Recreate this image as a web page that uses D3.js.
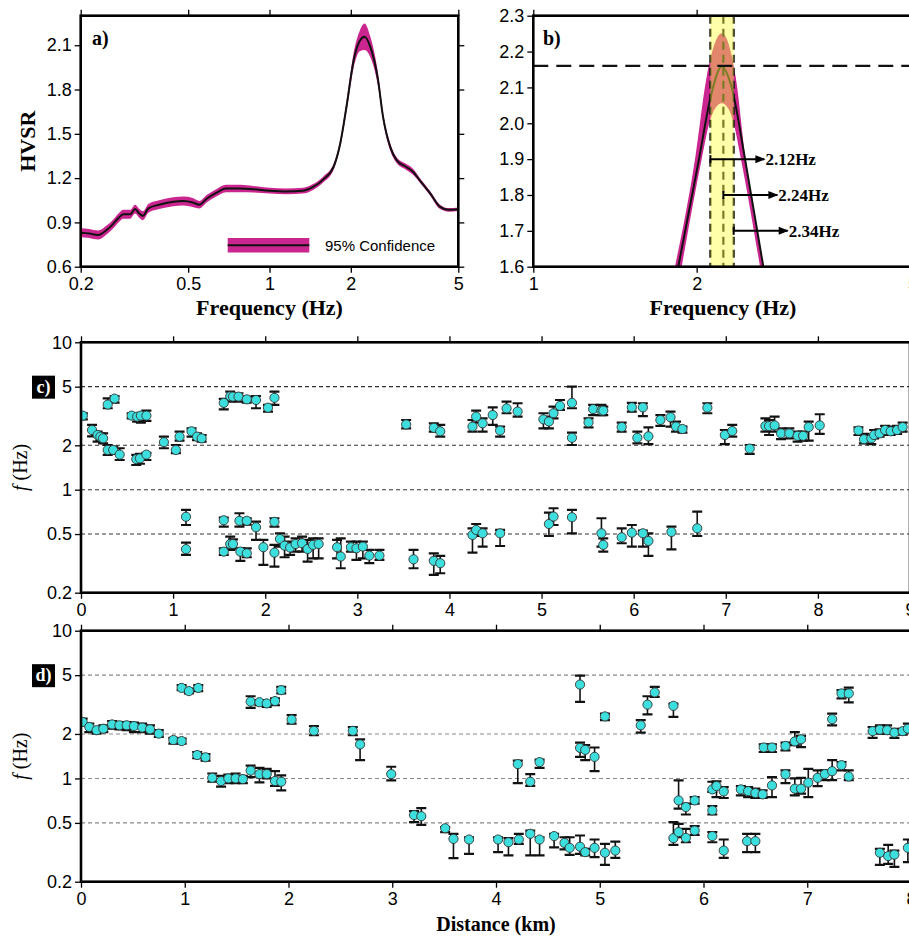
<!DOCTYPE html>
<html>
<head>
<meta charset="utf-8">
<script src="https://cdn.jsdelivr.net/npm/d3@7"></script>
<style>
  body { margin: 0; background: #fff; }
  svg { display: block; }
</style>
</head>
<body>
<svg id="fig" width="909" height="937"></svg>
<script>
// ---------- panel a: mean HVSR curve and 95% band ----------
const freqA = [0.2, 0.215, 0.232, 0.25, 0.264, 0.276, 0.288, 0.305, 0.318, 0.33, 0.34, 0.356, 0.39, 0.44, 0.48,
  0.52, 0.55, 0.585, 0.635, 0.69, 0.78, 0.87, 1.0, 1.16, 1.33, 1.45, 1.58, 1.73, 1.83, 1.93, 2.05, 2.16, 2.25,
  2.36, 2.52, 2.63, 2.80, 2.96, 3.18, 3.39, 3.63, 3.93, 4.27, 4.60, 5.0];
const hvsrA = [0.83, 0.825, 0.815, 0.85, 0.89, 0.93, 0.955, 0.955, 0.99, 0.96, 0.945, 0.995, 1.02, 1.04, 1.045,
  1.035, 1.02, 1.06, 1.10, 1.13, 1.13, 1.125, 1.115, 1.11, 1.115, 1.14, 1.19, 1.28, 1.44, 1.69, 2.00, 2.13, 2.157,
  2.09, 1.87, 1.62, 1.41, 1.32, 1.28, 1.245, 1.177, 1.098, 1.007, 0.985, 0.989];
const ciA = [0.03, 0.03, 0.03, 0.03, 0.03, 0.03, 0.03, 0.03, 0.03, 0.03, 0.03, 0.03, 0.03, 0.03, 0.03, 0.03,
  0.025, 0.025, 0.025, 0.025, 0.025, 0.022, 0.02, 0.02, 0.02, 0.02, 0.02, 0.02, 0.025, 0.035, 0.05, 0.07, 0.09,
  0.07, 0.045, 0.03, 0.025, 0.02, 0.02, 0.02, 0.015, 0.015, 0.015, 0.012, 0.012];
const ticksAx = [0.2, 0.5, 1, 2, 5];
const ticksAy = [0.6, 0.9, 1.2, 1.5, 1.8, 2.1];

// ---------- panel b: zoom on the peak ----------
const freqB = [1.85, 2.02, 2.12, 2.225, 2.32, 2.456, 2.654];
const hvsrB = [1.6, 1.9, 2.07, 2.158, 2.10, 1.9, 1.6];
const upFreqB = [1.824, 1.986, 2.087, 2.225, 2.36, 2.46, 2.66];
const upHvsrB = [1.6, 1.9, 2.13, 2.251, 2.13, 1.9, 1.6];
const loFreqB = [1.877, 2.043, 2.11, 2.16, 2.225, 2.29, 2.34, 2.414, 2.617];
const loHvsrB = [1.6, 1.9, 2.0, 2.04, 2.056, 2.04, 2.0, 1.9, 1.6];
const peakFreqs = [2.12, 2.24, 2.34];
const arrowLevels = [1.9, 1.8, 1.7];
const peakLevel = 2.16;
const ticksBx = [1, 2, 5];
const ticksBy = [1.6, 1.7, 1.8, 1.9, 2.0, 2.1, 2.2, 2.3];

// ---------- panel c: picked peaks along profile ----------
const cDist = [0.02, 0.12, 0.18, 0.21, 0.24, 0.29, 0.29, 0.35, 0.365, 0.42, 0.55, 0.60, 0.61, 0.64, 0.65, 0.71, 0.71,
  0.90, 1.03, 1.07, 1.20, 1.26, 1.31, 1.55, 1.62, 1.65, 1.71, 1.80, 1.90, 2.03, 2.10, 3.53, 3.83, 3.90,
  1.14, 1.14, 1.55, 1.55, 1.62, 1.65, 1.72, 1.73, 1.80, 1.80, 1.90, 1.98, 2.10, 2.10, 2.16, 2.21, 2.27, 2.33,
  2.40, 2.46, 2.52, 2.58, 2.78, 2.82, 2.93, 2.99, 3.06, 3.13, 3.24, 3.61, 3.83, 3.90,
  4.25, 4.29, 4.36, 4.47, 4.55, 4.62, 4.74, 5.02, 5.08, 5.13, 5.20, 5.33, 5.33, 5.51, 5.56, 5.65, 5.67, 5.87,
  5.98, 6.04, 6.10, 6.16, 6.29, 6.40, 6.46, 6.53, 6.80, 6.99, 7.07, 7.26, 7.43, 7.47, 7.53, 7.60, 7.69, 7.78,
  7.84, 7.90, 8.02, 8.44, 8.50, 8.58, 8.61, 8.67, 8.73, 8.79, 8.86, 8.92,
  4.25, 4.29, 4.36, 4.55, 5.08, 5.13, 5.33, 5.65, 5.67, 5.87, 5.98, 6.10, 6.16, 6.41, 6.69];
const cFreq = [3.18, 2.54, 2.35, 2.29, 2.23, 3.78, 1.86, 1.86, 4.15, 1.73, 3.18, 1.61, 3.13, 1.63, 3.18, 3.18, 1.73,
  2.10, 1.86, 2.29, 2.49, 2.29, 2.23, 3.88, 4.30, 4.28, 4.28, 4.10, 4.06, 3.60, 4.20, 2.77, 2.63, 2.49,
  0.655, 0.395, 0.62, 0.38, 0.428, 0.428, 0.615, 0.38, 0.615, 0.37, 0.556, 0.407, 0.605, 0.374, 0.463, 0.417,
  0.405, 0.428, 0.433, 0.396, 0.422, 0.428, 0.407, 0.352, 0.407, 0.40, 0.411, 0.357, 0.357, 0.337, 0.329, 0.317,
  2.68, 3.13, 2.82, 3.21, 2.52, 3.56, 3.39, 3.00, 2.90, 3.30, 3.70, 3.88, 2.25, 2.86, 3.52, 3.44, 3.44, 2.66,
  3.62, 2.25, 3.62, 2.30, 2.97, 3.10, 2.68, 2.58, 3.60, 2.35, 2.50, 1.90, 2.70, 2.70, 2.73, 2.41, 2.41, 2.32,
  2.32, 2.66, 2.73, 2.52, 2.20, 2.23, 2.35, 2.41, 2.54, 2.49, 2.54, 2.66,
  0.493, 0.533, 0.506, 0.506, 0.585, 0.657, 0.65, 0.506, 0.422, 0.475, 0.511, 0.506, 0.449, 0.517, 0.547];
const cLow = [3.0, 2.30, 2.12, 2.15, 2.06, 3.57, 1.72, 1.75, 3.90, 1.59, 3.05, 1.47, 2.90, 1.50, 2.85, 2.93, 1.59,
  1.91, 1.77, 2.15, 2.29, 2.17, 2.12, 3.51, 3.96, 4.06, 3.96, 3.90, 3.57, 3.39, 3.76, 2.61, 2.48, 2.29,
  0.576, 0.361, 0.562, 0.361, 0.39, 0.40, 0.562, 0.329, 0.58, 0.348, 0.456, 0.309, 0.562, 0.301, 0.411, 0.348,
  0.361, 0.38, 0.38, 0.325, 0.342, 0.342, 0.342, 0.293, 0.38, 0.334, 0.342, 0.317, 0.334, 0.293, 0.264, 0.271,
  2.48, 2.85, 2.48, 2.75, 2.29, 3.30, 3.13, 2.61, 2.61, 3.05, 3.48, 3.57, 2.01, 2.65, 3.21, 3.21, 3.21, 2.48,
  3.39, 2.06, 3.16, 2.04, 2.71, 2.68, 2.48, 2.44, 3.30, 2.04, 2.29, 1.75, 2.48, 2.35, 2.48, 2.20, 2.23, 2.12,
  2.15, 2.15, 2.39, 2.35, 2.06, 2.04, 2.23, 2.29, 2.35, 2.35, 2.39, 2.48,
  0.374, 0.485, 0.411, 0.415, 0.485, 0.576, 0.506, 0.411, 0.38, 0.433, 0.411, 0.411, 0.355, 0.394, 0.485];
const cHigh = [3.30, 2.75, 2.48, 2.41, 2.41, 4.17, 2.01, 1.96, 4.32, 1.91, 3.30, 1.72, 3.25, 1.75, 3.30, 3.44, 1.78,
  2.29, 2.01, 2.48, 2.61, 2.41, 2.35, 4.13, 4.63, 4.45, 4.51, 4.28, 4.32, 3.76, 4.63, 2.97, 2.82, 2.75,
  0.729, 0.437, 0.646, 0.40, 0.48, 0.46, 0.692, 0.40, 0.64, 0.40, 0.607, 0.456, 0.64, 0.422, 0.506, 0.48,
  0.444, 0.468, 0.48, 0.456, 0.468, 0.468, 0.456, 0.468, 0.444, 0.444, 0.444, 0.39, 0.39, 0.39, 0.37, 0.355,
  2.97, 3.44, 3.05, 3.62, 2.68, 3.96, 3.86, 3.30, 3.13, 3.66, 4.06, 5.00, 2.44, 3.05, 3.76, 3.76, 3.66, 2.85,
  3.88, 2.48, 3.86, 2.65, 3.21, 3.39, 2.90, 2.68, 3.86, 2.54, 2.75, 2.01, 3.05, 2.97, 3.13, 2.61, 2.61, 2.48,
  2.48, 2.90, 3.25, 2.65, 2.39, 2.35, 2.54, 2.57, 2.71, 2.68, 2.71, 2.85,
  0.547, 0.585, 0.547, 0.533, 0.699, 0.748, 0.729, 0.64, 0.468, 0.547, 0.576, 0.528, 0.506, 0.562, 0.71];

// ---------- panel d ----------
const dDist = [0.016, 0.08, 0.15, 0.215, 0.30, 0.37, 0.44, 0.51, 0.59, 0.665, 0.75, 0.89, 0.97, 0.97, 1.04, 1.13,
  1.12, 1.20, 1.265, 1.35, 1.42, 1.49, 1.56, 1.635, 1.635, 1.72, 1.72, 1.79, 1.79, 1.87, 1.87, 1.93, 1.93, 2.03,
  2.245, 2.62, 2.69, 2.99, 3.21, 3.28, 3.51, 3.59,
  3.74, 4.02, 4.12, 4.22, 4.21, 4.33, 4.33, 4.42, 4.42, 4.56, 4.66, 4.71, 4.81, 4.81, 4.81, 4.86, 4.86, 4.95,
  4.95, 5.05, 5.05, 5.15, 5.395, 5.46, 5.53, 5.71, 5.71, 5.76, 5.76, 5.83, 5.83, 5.915, 5.915, 6.085, 6.085,
  6.085, 6.125, 6.195, 6.195, 6.36, 6.43, 6.42, 6.50, 6.50, 6.57, 6.58, 6.66, 6.66, 6.79, 6.79, 6.88, 6.88,
  6.94, 6.94, 7.01, 7.10, 7.17, 7.24, 7.24, 7.33, 7.33, 7.40, 7.40, 7.63, 7.70, 7.77, 7.84, 7.92, 7.97, 7.70,
  7.78, 7.84, 7.97];
const dFreq = [2.41, 2.23, 2.12, 2.17, 2.32, 2.29, 2.29, 2.26, 2.21, 2.15, 2.01, 1.82, 1.79, 4.10, 3.90, 4.10,
  1.44, 1.39, 1.01, 0.96, 1.0, 1.0, 0.99, 3.31, 1.13, 3.28, 1.07, 3.22, 1.07, 3.34, 0.96, 3.96, 0.95, 2.50,
  2.10, 2.10, 1.70, 1.07, 0.565, 0.555, 0.46, 0.39,
  0.386, 0.386, 0.37, 0.386, 1.25, 0.95, 0.422, 1.29, 0.386, 0.407, 0.366, 0.339, 0.345, 4.32, 1.61, 1.56,
  0.317, 1.40, 0.339, 2.63, 0.314, 0.325, 2.29, 3.16, 3.82, 3.10, 0.394, 0.71, 0.433, 0.64, 0.396, 0.71, 0.444,
  0.607, 0.407, 0.843, 0.888, 0.817, 0.325, 0.843, 0.82, 0.376, 0.796, 0.376, 0.78, 1.62, 1.62, 0.897, 1.66,
  1.066, 1.78, 0.852, 1.84, 0.852, 0.936, 1.01, 1.07, 1.12, 2.52, 3.76, 1.23, 3.76, 1.03, 2.09, 2.14, 2.12,
  2.04, 2.09, 2.17, 0.314, 0.298, 0.305, 0.339];
const dLow = [2.29, 2.06, 2.01, 2.06, 2.17, 2.15, 2.12, 2.06, 2.06, 2.01, 1.91, 1.72, 1.72, 3.96, 3.76, 3.90,
  1.37, 1.32, 0.95, 0.88, 0.93, 0.93, 0.93, 3.00, 1.02, 3.13, 0.94, 3.05, 1.0, 3.13, 0.89, 3.76, 0.83, 2.35,
  1.96, 1.96, 1.33, 0.97, 0.506, 0.485, 0.433, 0.289,
  0.309, 0.317, 0.301, 0.361, 0.93, 0.89, 0.301, 1.18, 0.301, 0.342, 0.331, 0.304, 0.309, 3.30, 1.40, 1.33,
  0.301, 1.12, 0.293, 2.48, 0.26, 0.29, 2.04, 2.71, 3.57, 2.61, 0.355, 0.625, 0.40, 0.57, 0.37, 0.675, 0.415,
  0.57, 0.37, 0.81, 0.748, 0.737, 0.29, 0.768, 0.748, 0.317, 0.737, 0.317, 0.737, 1.51, 1.51, 0.748, 1.55,
  0.93, 1.68, 0.768, 1.63, 0.788, 0.748, 0.888, 0.975, 0.975, 2.29, 3.48, 1.134, 3.27, 0.975, 1.88, 2.01, 2.01,
  1.88, 1.98, 2.06, 0.26, 0.264, 0.252, 0.271];
const dHigh = [2.54, 2.35, 2.23, 2.29, 2.44, 2.41, 2.41, 2.39, 2.35, 2.29, 2.12, 1.88, 1.86, 4.28, 4.06, 4.28,
  1.51, 1.46, 1.08, 1.04, 1.06, 1.08, 1.04, 3.60, 1.22, 3.39, 1.18, 3.34, 1.16, 3.48, 1.12, 4.17, 1.05, 2.68,
  2.26, 2.23, 1.84, 1.20, 0.60, 0.63, 0.468, 0.422,
  0.40, 0.40, 0.394, 0.422, 1.32, 1.07, 0.444, 1.34, 0.40, 0.422, 0.40, 0.40, 0.411, 4.96, 1.75, 1.68,
  0.334, 1.62, 0.386, 2.75, 0.361, 0.374, 2.48, 3.60, 4.17, 3.21, 0.506, 0.97, 0.493, 0.675, 0.456, 0.748,
  0.475, 0.65, 0.433, 0.95, 0.955, 0.874, 0.386, 0.888, 0.874, 0.422, 0.852, 0.422, 0.83, 1.70, 1.70, 1.02,
  1.75, 1.134, 2.06, 1.0, 1.94, 1.01, 1.16, 1.134, 1.134, 1.33, 2.75, 3.96, 1.29, 4.12, 1.134, 2.23, 2.29,
  2.29, 2.17, 2.17, 2.35, 0.334, 0.355, 0.325, 0.386];

const fTicks = [0.2, 0.5, 1, 2, 5, 10];
const gridLevels = [0.5, 1, 2, 5];
const cDistTicks = [0, 1, 2, 3, 4, 5, 6, 7, 8, 9];
const dDistTicks = [0, 1, 2, 3, 4, 5, 6, 7, 8];

// ---------- style ----------
const sans = '"Liberation Sans", Arial, Helvetica, sans-serif';
const serif = '"Liberation Serif", "Times New Roman", Times, serif';
const magenta = '#cb2690';
const cyan = '#3ddede';
const tickFont = 18;

const svg = d3.select('#fig');

function styleAxis(g) {
  g.select('.domain').remove();
  g.selectAll('.tick line').attr('stroke', '#000').attr('stroke-width', 1.3);
  g.selectAll('.tick text').attr('font-family', sans).attr('font-size', tickFont).attr('fill', '#000');
  return g;
}

function frame(x, y) {
  const [x0, x1] = x.range();
  const [y0, y1] = y.range();
  svg.append('rect')
    .attr('x', x0).attr('y', y1).attr('width', x1 - x0).attr('height', y0 - y1)
    .attr('fill', 'none').attr('stroke', '#000').attr('stroke-width', 2.6);
}

function clip(id, x, y) {
  const [x0, x1] = x.range();
  const [y0, y1] = y.range();
  svg.append('clipPath').attr('id', id).append('rect')
    .attr('x', x0).attr('y', y1).attr('width', x1 - x0).attr('height', y0 - y1);
  return 'url(#' + id + ')';
}

function axes(x, y, xt, yt, xfmt, yfmt, pad) {
  const [x0, x1] = x.range();
  const [y0, y1] = y.range();
  styleAxis(svg.append('g').attr('transform', `translate(0,${y0})`)
    .call(d3.axisBottom(x).tickValues(xt).tickFormat(xfmt).tickSize(6).tickPadding(pad).tickSizeOuter(0)));
  styleAxis(svg.append('g').attr('transform', `translate(0,${y1})`)
    .call(d3.axisTop(x).tickValues(xt).tickFormat('').tickSize(6).tickSizeOuter(0)));
  styleAxis(svg.append('g').attr('transform', `translate(${x0},0)`)
    .call(d3.axisLeft(y).tickValues(yt).tickFormat(yfmt).tickSize(6).tickPadding(3).tickSizeOuter(0)));
  styleAxis(svg.append('g').attr('transform', `translate(${x1},0)`)
    .call(d3.axisRight(y).tickValues(yt).tickFormat('').tickSize(6).tickSizeOuter(0)));
}

const num = d => String(d);

// ================= panel a =================
const xA = d3.scaleLog().domain([0.2, 5]).range([80.7, 458.3]);
const yA = d3.scaleLinear().domain([0.6, 2.3]).range([266.7, 15.7]);
const ia = d3.range(freqA.length);
const gA = svg.append('g').attr('clip-path', clip('clipA', xA, yA));
gA.append('path')
  .attr('d', d3.area().curve(d3.curveMonotoneX)
    .x(i => xA(freqA[i])).y0(i => yA(hvsrA[i] - ciA[i])).y1(i => yA(hvsrA[i] + ciA[i]))(ia))
  .attr('fill', magenta);
gA.append('path')
  .attr('d', d3.line().curve(d3.curveMonotoneX).x(i => xA(freqA[i])).y(i => yA(hvsrA[i]))(ia))
  .attr('fill', 'none').attr('stroke', '#111').attr('stroke-width', 2);

// legend
svg.append('rect').attr('x', 227.7).attr('y', 238).attr('width', 81.6).attr('height', 14.5).attr('fill', magenta);
svg.append('line').attr('x1', 227.7).attr('x2', 309.3).attr('y1', 245.2).attr('y2', 245.2)
  .attr('stroke', '#111').attr('stroke-width', 2);
svg.append('text').attr('x', 325).attr('y', 250.5).attr('font-family', sans).attr('font-size', 15)
  .text('95% Confidence');

axes(xA, yA, ticksAx, ticksAy, num, d3.format('.1f'), 5);
frame(xA, yA);
svg.append('text').attr('x', 92).attr('y', 45).attr('font-family', serif).attr('font-weight', 'bold')
  .attr('font-size', 20).text('a)');
svg.append('text').attr('x', (xA.range()[0] + xA.range()[1]) / 2).attr('y', 315).attr('text-anchor', 'middle')
  .attr('font-family', serif).attr('font-weight', 'bold').attr('font-size', 22).text('Frequency (Hz)');
svg.append('text').attr('transform', `translate(35,${(yA.range()[0] + yA.range()[1]) / 2}) rotate(-90)`)
  .attr('text-anchor', 'middle').attr('font-family', serif).attr('font-weight', 'bold').attr('font-size', 22)
  .text('HVSR');

// ================= panel b =================
const xB = d3.scaleLog().domain([1, 5]).range([533.3, 912.6]);
const yB = d3.scaleLinear().domain([1.6, 2.3]).range([266.7, 15.7]);
const gB = svg.append('g').attr('clip-path', clip('clipB', xB, yB));
const ub = d3.range(upFreqB.length), lb = d3.range(loFreqB.length), mb = d3.range(freqB.length);
gB.append('path')
  .attr('d', d3.area().curve(d3.curveMonotoneX).x(i => xB(upFreqB[i])).y0(yB(1.6)).y1(i => yB(upHvsrB[i]))(ub))
  .attr('fill', magenta);
gB.append('path')
  .attr('d', d3.area().curve(d3.curveMonotoneX).x(i => xB(loFreqB[i])).y0(yB(1.6) + 2).y1(i => yB(loHvsrB[i]))(lb))
  .attr('fill', '#fff');
gB.append('path')
  .attr('d', d3.line().curve(d3.curveMonotoneX).x(i => xB(freqB[i])).y(i => yB(hvsrB[i]))(mb))
  .attr('fill', 'none').attr('stroke', '#111').attr('stroke-width', 2);
peakFreqs.forEach(f => {
  gB.append('line').attr('x1', xB(f)).attr('x2', xB(f)).attr('y1', yB(2.3)).attr('y2', yB(1.6))
    .attr('stroke', '#111').attr('stroke-width', 2.2).attr('stroke-dasharray', '8,5');
});
// translucent yellow window between first and last peak estimate
gB.append('rect')
  .attr('x', xB(peakFreqs[0])).attr('width', xB(peakFreqs[2]) - xB(peakFreqs[0]))
  .attr('y', yB(2.3)).attr('height', yB(1.6) - yB(2.3))
  .attr('fill', '#ffff40').attr('opacity', 0.45);
gB.append('line').attr('x1', xB(1)).attr('x2', xB(5)).attr('y1', yB(peakLevel)).attr('y2', yB(peakLevel))
  .attr('stroke', '#111').attr('stroke-width', 2.4).attr('stroke-dasharray', '15,8');

svg.append('defs').append('marker').attr('id', 'arr').attr('viewBox', '0 0 10 10')
  .attr('refX', 9).attr('refY', 5).attr('markerWidth', 6).attr('markerHeight', 5)
  .attr('markerUnits', 'strokeWidth').attr('orient', 'auto')
  .append('path').attr('d', 'M0,1 L10,5 L0,9 Z').attr('fill', '#000');
peakFreqs.forEach((f, k) => {
  const x0 = xB(f), yy = yB(arrowLevels[k]);
  svg.append('line').attr('x1', x0).attr('x2', x0).attr('y1', yy - 4).attr('y2', yy + 4)
    .attr('stroke', '#000').attr('stroke-width', 2);
  svg.append('line').attr('x1', x0).attr('x2', x0 + 54).attr('y1', yy).attr('y2', yy)
    .attr('stroke', '#000').attr('stroke-width', 2).attr('marker-end', 'url(#arr)');
  svg.append('text').attr('x', x0 + 55).attr('y', yy + 6).attr('font-family', serif).attr('font-weight', 'bold')
    .attr('font-size', 17).text(f.toFixed(2) + 'Hz');
});

axes(xB, yB, ticksBx, ticksBy, num, d3.format('.1f'), 5);
frame(xB, yB);
svg.append('text').attr('x', 543).attr('y', 45).attr('font-family', serif).attr('font-weight', 'bold')
  .attr('font-size', 20).text('b)');
svg.append('text').attr('x', (xB.range()[0] + xB.range()[1]) / 2).attr('y', 315).attr('text-anchor', 'middle')
  .attr('font-family', serif).attr('font-weight', 'bold').attr('font-size', 22).text('Frequency (Hz)');

// ================= panels c, d =================
function profilePanel(id, x, y, dist, freq, lo, hi, xt, gridColor, label) {
  const [x0, x1] = x.range();
  const [y0, y1] = y.range();
  const g = svg.append('g').attr('clip-path', clip('clip' + id, x, y));
  g.selectAll('line.grid').data(gridLevels).join('line').attr('class', 'grid')
    .attr('x1', x0).attr('x2', x1).attr('y1', d => y(d)).attr('y2', d => y(d))
    .attr('stroke', gridColor).attr('stroke-width', 1.1).attr('stroke-dasharray', '4,3');
  const idx = d3.range(dist.length);
  const cap = 5;
  g.selectAll('line.eb').data(idx).join('line').attr('class', 'eb')
    .attr('x1', i => x(dist[i])).attr('x2', i => x(dist[i]))
    .attr('y1', i => y(lo[i])).attr('y2', i => y(hi[i]))
    .attr('stroke', '#111').attr('stroke-width', 1.6);
  [lo, hi].forEach((arr, k) => {
    g.selectAll('line.cap' + k).data(idx).join('line').attr('class', 'cap' + k)
      .attr('x1', i => x(dist[i]) - cap).attr('x2', i => x(dist[i]) + cap)
      .attr('y1', i => y(arr[i])).attr('y2', i => y(arr[i]))
      .attr('stroke', '#111').attr('stroke-width', 2.2);
  });
  g.selectAll('circle').data(idx).join('circle')
    .attr('cx', i => x(dist[i])).attr('cy', i => y(freq[i])).attr('r', 4.6)
    .attr('fill', cyan).attr('stroke', '#333').attr('stroke-width', 0.9);

  axes(x, y, xt, fTicks, num, num, 5);
  frame(x, y);

  // panel tag
  const ty = y(5);
  svg.append('rect').attr('x', 32).attr('y', ty - 11).attr('width', 23).attr('height', 23).attr('fill', '#000');
  svg.append('text').attr('x', 43.5).attr('y', ty + 6).attr('text-anchor', 'middle').attr('fill', '#fff')
    .attr('font-family', serif).attr('font-weight', 'bold').attr('font-size', 18).text(label);

  const t = svg.append('text').attr('transform', `translate(27,${(y0 + y1) / 2}) rotate(-90)`)
    .attr('text-anchor', 'middle').attr('font-family', serif).attr('font-size', 20);
  t.append('tspan').attr('font-style', 'italic').text('f');
  t.append('tspan').text(' (Hz)');
}

const xC = d3.scaleLinear().domain([0, 9]).range([81, 910]);
const yC = d3.scaleLog().domain([0.2, 10]).range([592.7, 342.3]);
profilePanel('C', xC, yC, cDist, cFreq, cLow, cHigh, cDistTicks, '#333', 'c)');

const xD = d3.scaleLinear().domain([0, 8]).range([81, 911]);
const yD = d3.scaleLog().domain([0.2, 10]).range([881.7, 630.7]);
profilePanel('D', xD, yD, dDist, dFreq, dLow, dHigh, dDistTicks, '#888', 'd)');

svg.append('text').attr('x', (xD.range()[0] + xD.range()[1]) / 2).attr('y', 931).attr('text-anchor', 'middle')
  .attr('font-family', serif).attr('font-weight', 'bold').attr('font-size', 20).text('Distance (km)');
</script>
</body>
</html>
